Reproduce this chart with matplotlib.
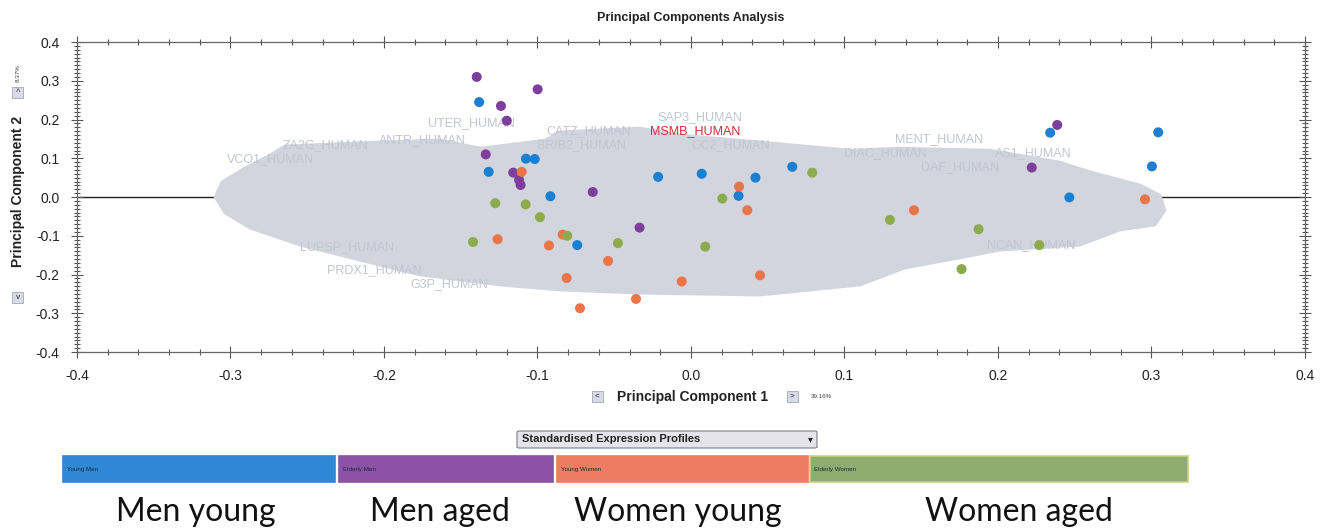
import matplotlib
matplotlib.use("Agg")
import matplotlib.pyplot as plt
from matplotlib.patches import Polygon, Rectangle, FancyBboxPatch
from matplotlib.ticker import MultipleLocator, FormatStrFormatter

plt.rcParams["font.family"] = ["Liberation Sans", "DejaVu Sans"]

# sample scores on PC1 / PC2, one pair of lists per group
young_men_x = [-0.138, -0.1075, -0.1018, -0.1318, -0.0916, -0.0741, -0.0214, 0.007,
               0.042, 0.066, 0.031, 0.234, 0.3044, 0.3003, 0.2465]
young_men_y = [0.245, 0.099, 0.098, 0.065, 0.002, -0.124, 0.052, 0.060,
               0.050, 0.078, 0.003, 0.166, 0.167, 0.079, -0.001]

elderly_men_x = [-0.1396, -0.0999, -0.1238, -0.120, -0.1337, -0.1158, -0.112, -0.111,
                 -0.064, -0.0335, 0.2386, 0.222]
elderly_men_y = [0.310, 0.278, 0.235, 0.197, 0.110, 0.063, 0.044, 0.031,
                 0.013, -0.079, 0.186, 0.076]

young_women_x = [-0.1103, -0.126, -0.0836, -0.0925, -0.054, -0.081, -0.0358, -0.0723,
                 0.0313, 0.0367, -0.006, 0.045, 0.1453, 0.2958]
young_women_y = [0.065, -0.109, -0.097, -0.125, -0.165, -0.209, -0.263, -0.287,
                 0.027, -0.034, -0.218, -0.202, -0.034, -0.006]

elderly_women_x = [-0.1275, -0.1077, -0.0984, -0.142, -0.0806, -0.0476, 0.079, 0.0204,
                   0.0093, 0.1296, 0.1874, 0.2269, 0.1763]
elderly_women_y = [-0.016, -0.019, -0.052, -0.116, -0.100, -0.119, 0.063, -0.004,
                   -0.128, -0.059, -0.083, -0.124, -0.186]

group_names = ["Young Men", "Elderly Men", "Young Women", "Elderly Women"]
group_colors = ["#1b80d2", "#7d3f9b", "#ea7548", "#8cab4c"]
bar_colors = ["#2f88d3", "#8b52a8", "#ee7c60", "#90ab6e"]
captions = ["Men young", "Men aged", "Women young", "Women aged"]

# outline of the overlapping protein-label cloud (loadings)
cloud_x = [-0.310, -0.3055, -0.2906, -0.2743, -0.2645, -0.2026, -0.1635, -0.137, -0.095,
           -0.0853, -0.0332, -0.0072, 0.045, 0.1036, 0.136, 0.1948, 0.2404, 0.26, 0.2925,
           0.3055, 0.3088, 0.3023, 0.2795, 0.2534, 0.2013, 0.1752, 0.1394, 0.1101, 0.045,
           -0.0332, -0.0853, -0.1244, -0.1765, -0.2156, -0.2547, -0.2873, -0.3036]
cloud_y = [0.000, 0.039, 0.075, 0.108, 0.132, 0.142, 0.147, 0.126, 0.147,
           0.168, 0.178, 0.160, 0.142, 0.121, 0.126, 0.121, 0.090, 0.065, 0.031,
           0.005, -0.034, -0.072, -0.085, -0.124, -0.137, -0.157, -0.183, -0.227, -0.253,
           -0.248, -0.240, -0.227, -0.201, -0.163, -0.124, -0.080, -0.041]

# protein labels that stick out of the cloud
label_names = ["UTER_HUMAN", "SAP3_HUMAN", "CATZ_HUMAN", "ZA2G_HUMAN", "ANTR_HUMAN",
               "BRIB2_HUMAN", "GC2_HUMAN", "DIAC_HUMAN", "MENT_HUMAN", "DAF_HUMAN",
               "AS1_HUMAN", "NCAN_HUMAN", "PRDX1_HUMAN", "G3P_HUMAN", "LUPSP_HUMAN",
               "VCO1_HUMAN"]
label_x = [-0.171, -0.022, -0.094, -0.266, -0.203, -0.100, 0.000, 0.100, 0.133, 0.150,
           0.198, 0.193, -0.237, -0.183, -0.255, -0.302]
label_y = [0.190, 0.207, 0.170, 0.134, 0.148, 0.134, 0.133, 0.114, 0.150, 0.078,
           0.114, -0.124, -0.188, -0.225, -0.128, 0.097]
highlight_name = "MSMB_HUMAN"
highlight_x = -0.027
highlight_y = 0.169

fig = plt.figure(figsize=(13.32, 5.30), dpi=100)
ax = fig.add_axes([0.0578, 0.3358, 0.9219, 0.5849])

ax.axhline(0, color="#222222", lw=1.0, zorder=1)
ax.add_patch(Polygon(list(zip(cloud_x, cloud_y)), closed=True, facecolor="#d2d4de",
                     edgecolor="#d2d4de", lw=2, zorder=2))
for name, x, y in zip(label_names, label_x, label_y):
    ax.text(x, y, name, fontsize=9, color="#c2c5d2", zorder=2.5, va="center")
ax.text(highlight_x, highlight_y, highlight_name, fontsize=9, color="#cf3039",
        zorder=3, va="center")

groups = [(young_men_x, young_men_y), (elderly_men_x, elderly_men_y),
          (young_women_x, young_women_y), (elderly_women_x, elderly_women_y)]
for (gx, gy), color, name in zip(groups, group_colors, group_names):
    ax.scatter(gx, gy, s=52, color=color, edgecolors="none", zorder=4, label=name)

ax.set_xlim(-0.4, 0.4)
ax.set_ylim(-0.4, 0.4)
ax.xaxis.set_major_locator(MultipleLocator(0.1))
ax.xaxis.set_minor_locator(MultipleLocator(0.02))
ax.yaxis.set_major_locator(MultipleLocator(0.1))
ax.yaxis.set_minor_locator(MultipleLocator(0.01))
ax.xaxis.set_major_formatter(FormatStrFormatter("%.1f"))
ax.yaxis.set_major_formatter(FormatStrFormatter("%.1f"))
ax.tick_params(which="both", direction="inout", top=True, right=True,
               color="#555555", width=0.8, labelsize=10, labelcolor="#222222")
ax.tick_params(which="major", length=9, pad=8)
ax.tick_params(which="minor", length=5)
for spine in ax.spines.values():
    spine.set_color("#666666")
    spine.set_linewidth(0.9)

fig.text(0.5188, 0.966, "Principal Components Analysis", ha="center", va="center",
         fontsize=9, fontweight="bold", color="#222222")

# axis titles with the little arrow buttons
fig.text(0.0135, 0.6396, "Principal Component 2", rotation=90, ha="center", va="center",
         fontsize=10, fontweight="bold", color="#222222")
fig.text(0.0135, 0.862, "8.37%", rotation=90, ha="center", va="center", fontsize=4.5,
         color="#444444")
fig.text(0.5203, 0.251, "Principal Component 1", ha="center", va="center",
         fontsize=10, fontweight="bold", color="#222222")
fig.text(0.617, 0.251, "39.16%", ha="center", va="center", fontsize=4.5, color="#444444")


def arrow_button(cx, cy, sym):
    w, h = 11 / 1332, 11 / 530
    fig.patches.append(Rectangle((cx - w / 2, cy - h / 2), w, h, transform=fig.transFigure,
                                 facecolor="#d8dbe6", edgecolor="#a3a6b6", lw=0.6))
    fig.text(cx, cy, sym, ha="center", va="center", fontsize=5.5, color="#555566",
             fontweight="bold")


arrow_button(0.0135, 0.8264, "^")
arrow_button(0.0135, 0.4396, "v")
arrow_button(0.4482, 0.251, "<")
arrow_button(0.5946, 0.251, ">")

# profile selector
fig.patches.append(FancyBboxPatch((517 / 1332, 1 - 448 / 530), 300 / 1332, 17 / 530,
                                  boxstyle="round,pad=0,rounding_size=0.002",
                                  transform=fig.transFigure, facecolor="#e4e4ea",
                                  edgecolor="#7d7d86", lw=0.8))
fig.text(522 / 1332, 1 - 439 / 530, "Standardised Expression Profiles", ha="left",
         va="center", fontsize=8, fontweight="bold", color="#222222")
fig.text(810 / 1332, 1 - 439 / 530, "\u25be", ha="center", va="center", fontsize=7,
         color="#222222")

# group colour bars
bar_left = [63, 339, 557, 810]
bar_right = [335, 553, 808, 1188]
for l, r, c, name in zip(bar_left, bar_right, bar_colors, group_names):
    fig.patches.append(Rectangle((l / 1332, 1 - 482 / 530), (r - l) / 1332, 26 / 530,
                                 transform=fig.transFigure, facecolor=c,
                                 edgecolor="#c9d27a" if name == "Elderly Women" else c,
                                 lw=1.2))
    fig.text((l + 4) / 1332, 1 - 469 / 530, name, ha="left", va="center", fontsize=4.5,
             color="#1c2a3a")

caption_x = [196, 440, 678, 1019]
for cx, cap in zip(caption_x, captions):
    fig.text(cx / 1332, 1 - 512 / 530, cap, ha="center", va="center", fontsize=23,
             family=["Lato", "DejaVu Sans"], color="#111111")

fig.savefig("out.png", dpi=100)
